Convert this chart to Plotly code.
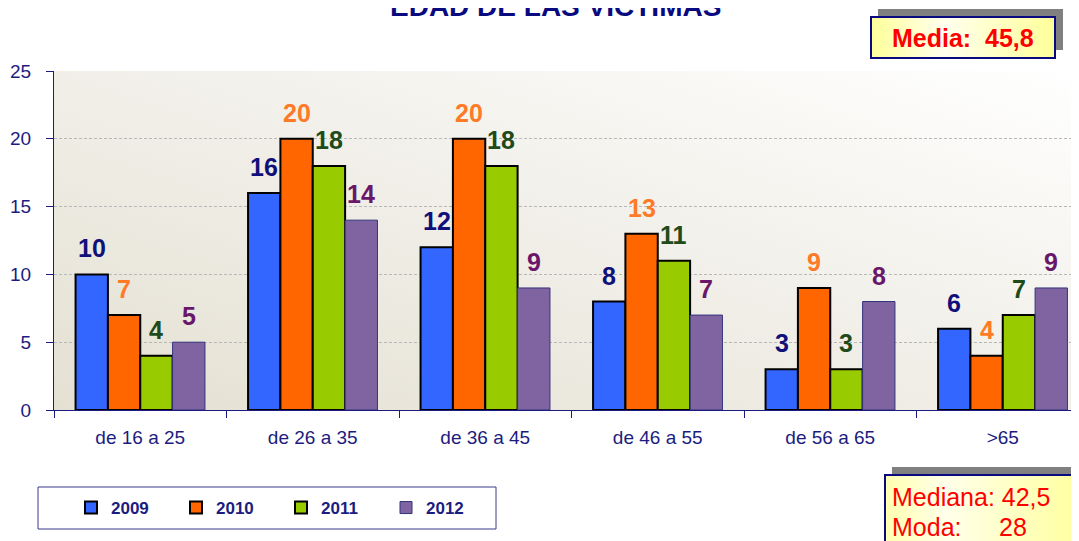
import base64
import plotly.graph_objects as go

categories = ["de 16 a 25", "de 26 a 35", "de 36 a 45", "de 46 a 55", "de 56 a 65", ">65"]
years = ["2009", "2010", "2011", "2012"]
v2009 = [10, 16, 12, 8, 3, 6]
v2010 = [7, 20, 20, 13, 9, 4]
v2011 = [4, 18, 18, 11, 3, 7]
v2012 = [5, 14, 9, 7, 8, 9]
series_values = [v2009, v2010, v2011, v2012]

bar_colors = ["#3366FF", "#FF6600", "#99CC00", "#8064A2"]
bar_line_colors = ["#000000", "#000000", "#000000", "#33337A"]
bar_line_widths = [2, 2, 2, 1]
label_colors = ["#10107A", "#FF7A26", "#1F4A1A", "#6A176A"]
NAVY = "#1C1C80"

# page body offsets the figure by 8px; positions below are given in screen pixels
OFF = 8
W, H = 1079 - OFF, 541 - OFF
ML = 54 - OFF
MT = 71 - OFF
MB = H - (410 - OFF)
MR = 0
PW = W - ML - MR
PH = H - MT - MB
XR = [-0.5, 5.442]
BARGAP = 0.25


def px(x):
    return (x - OFF - ML) / PW


def py(y):
    return (H - MB - (y - OFF)) / PH


def svg_uri(svg):
    return "data:image/svg+xml;base64," + base64.b64encode(svg.encode()).decode()


fig = go.Figure()
for i, y in enumerate(years):
    fig.add_trace(go.Bar(
        name=y, x=categories, y=series_values[i],
        marker=dict(color=bar_colors[i], line=dict(color=bar_line_colors[i], width=bar_line_widths[i])),
    ))

# value labels
cat_px = PW / (XR[1] - XR[0])
bar_px = cat_px * (1 - BARGAP) / len(years)
annotations = []
for i in range(len(years)):
    for j, c in enumerate(categories):
        annotations.append(dict(
            x=c, y=series_values[i][j], xref="x", yref="y",
            text=f"<b>{series_values[i][j]}</b>", showarrow=False,
            xshift=(i - 1.5) * bar_px, yshift=26, xanchor="center", yanchor="middle",
            font=dict(family="Liberation Sans, Arial", size=25, color=label_colors[i]),
        ))

annotations.append(dict(
    x=px(555), y=py(6), xref="paper", yref="paper", showarrow=False,
    text="<b>EDAD DE LAS VICTIMAS</b>", xanchor="center", yanchor="middle",
    font=dict(family="Liberation Sans, Arial", size=28, color="#0A0A80"),
))
annotations.append(dict(
    x=px(963), y=py(38), xref="paper", yref="paper", showarrow=False,
    text="<b>Media:&nbsp;&nbsp;45,8</b>", xanchor="center", yanchor="middle",
    font=dict(family="Liberation Sans, Arial", size=25, color="#FF0000"),
))
annotations.append(dict(
    x=px(890), y=py(497), xref="paper", yref="paper", showarrow=False,
    text="Mediana: 42,5", xanchor="left", yanchor="middle",
    font=dict(family="Liberation Sans, Arial", size=25, color="#FF0000"),
))
annotations.append(dict(
    x=px(890), y=py(527), xref="paper", yref="paper", showarrow=False,
    text="Moda:", xanchor="left", yanchor="middle",
    font=dict(family="Liberation Sans, Arial", size=25, color="#FF0000"),
))
annotations.append(dict(
    x=px(997), y=py(527), xref="paper", yref="paper", showarrow=False,
    text="28", xanchor="left", yanchor="middle",
    font=dict(family="Liberation Sans, Arial", size=25, color="#FF0000"),
))

bg_svg = ("<svg xmlns='http://www.w3.org/2000/svg' width='200' height='100' viewBox='0 0 200 100' preserveAspectRatio='none'>"
          "<defs><linearGradient id='g' x1='0' y1='1' x2='1' y2='0'>"
          "<stop offset='0' stop-color='#E4E0D2'/><stop offset='0.55' stop-color='#F2F0EA'/>"
          "<stop offset='1' stop-color='#FFFFFF'/></linearGradient></defs>"
          "<rect width='200' height='100' fill='url(#g)'/></svg>")
box_svg = ("<svg xmlns='http://www.w3.org/2000/svg' width='200' height='50' viewBox='0 0 200 50' preserveAspectRatio='none'>"
           "<defs><linearGradient id='y' x1='0' y1='0' x2='1' y2='0'>"
           "<stop offset='0' stop-color='#FFFF99'/><stop offset='0.4' stop-color='#FFFFEE'/>"
           "<stop offset='1' stop-color='#FFFF99'/></linearGradient></defs>"
           "<rect width='200' height='50' fill='url(#y)'/></svg>")
box2_svg = ("<svg xmlns='http://www.w3.org/2000/svg' width='200' height='80' viewBox='0 0 200 80' preserveAspectRatio='none'>"
            "<defs><linearGradient id='y' x1='0' y1='0' x2='1' y2='0'>"
            "<stop offset='0' stop-color='#FFFFB0'/><stop offset='0.3' stop-color='#FFFFEA'/>"
            "<stop offset='1' stop-color='#FFFF99'/></linearGradient></defs>"
            "<rect width='200' height='80' fill='url(#y)'/></svg>")

images = [
    dict(source=svg_uri(bg_svg), xref="paper", yref="paper", x=0, y=1, sizex=1, sizey=1,
         xanchor="left", yanchor="top", sizing="stretch", layer="below"),
    dict(source=svg_uri(box_svg), xref="paper", yref="paper", x=px(871), y=py(17),
         sizex=px(1055) - px(871), sizey=py(17) - py(58),
         xanchor="left", yanchor="top", sizing="stretch", layer="above"),
    dict(source=svg_uri(box2_svg), xref="paper", yref="paper", x=px(885), y=py(475),
         sizex=px(1090) - px(885), sizey=py(475) - py(550),
         xanchor="left", yanchor="top", sizing="stretch", layer="above"),
]

shapes = [
    dict(type="rect", xref="paper", yref="paper", x0=px(878), x1=px(1063), y0=py(50), y1=py(9),
         fillcolor="#808080", line=dict(width=0), layer="below"),
    dict(type="rect", xref="paper", yref="paper", x0=px(871), x1=px(1055), y0=py(58), y1=py(17),
         fillcolor="rgba(0,0,0,0)", line=dict(color="#0A0A80", width=2), layer="above"),
    dict(type="rect", xref="paper", yref="paper", x0=px(892), x1=px(1090), y0=py(550), y1=py(467),
         fillcolor="#808080", line=dict(width=0), layer="below"),
    dict(type="rect", xref="paper", yref="paper", x0=px(885), x1=px(1090), y0=py(550), y1=py(475),
         fillcolor="rgba(0,0,0,0)", line=dict(color="#0A0A80", width=2), layer="above"),
    dict(type="rect", xref="paper", yref="paper", x0=px(38), x1=px(496), y0=py(529), y1=py(487),
         fillcolor="rgba(0,0,0,0)", line=dict(color="#3A3A8C", width=1), layer="above"),
]

fig.update_layout(
    width=W, height=H,
    margin=dict(l=ML, r=MR, t=MT, b=MB, pad=0, autoexpand=False),
    paper_bgcolor="#FFFFFF", plot_bgcolor="rgba(0,0,0,0)",
    barmode="group", bargap=BARGAP, bargroupgap=0,
    font=dict(family="Liberation Sans, Arial", color=NAVY),
    showlegend=True,
    legend=dict(orientation="h", x=px(71), y=py(508), xanchor="left", yanchor="middle",
                bgcolor="rgba(0,0,0,0)", borderwidth=0,
                entrywidth=60, entrywidthmode="pixels",
                font=dict(family="Liberation Sans, Arial", size=17, color=NAVY, weight="bold"),
                itemclick=False),
    xaxis=dict(range=XR, showline=True, linecolor=NAVY, linewidth=1,
               ticks="outside", tickson="boundaries", ticklen=7, tickcolor=NAVY,
               tickfont=dict(size=19, color=NAVY), ticklabelstandoff=10,
               showgrid=False, zeroline=False),
    yaxis=dict(range=[0, 25], dtick=5, showline=True, linecolor=NAVY, linewidth=1,
               ticks="outside", ticklen=7, tickcolor=NAVY,
               tickfont=dict(size=19, color=NAVY), ticklabelstandoff=11,
               showgrid=True, gridcolor="#B8B8B8", griddash="3px,2px", gridwidth=1,
               zeroline=False),
    annotations=annotations, images=images, shapes=shapes,
)

fig.write_html("out.html")
